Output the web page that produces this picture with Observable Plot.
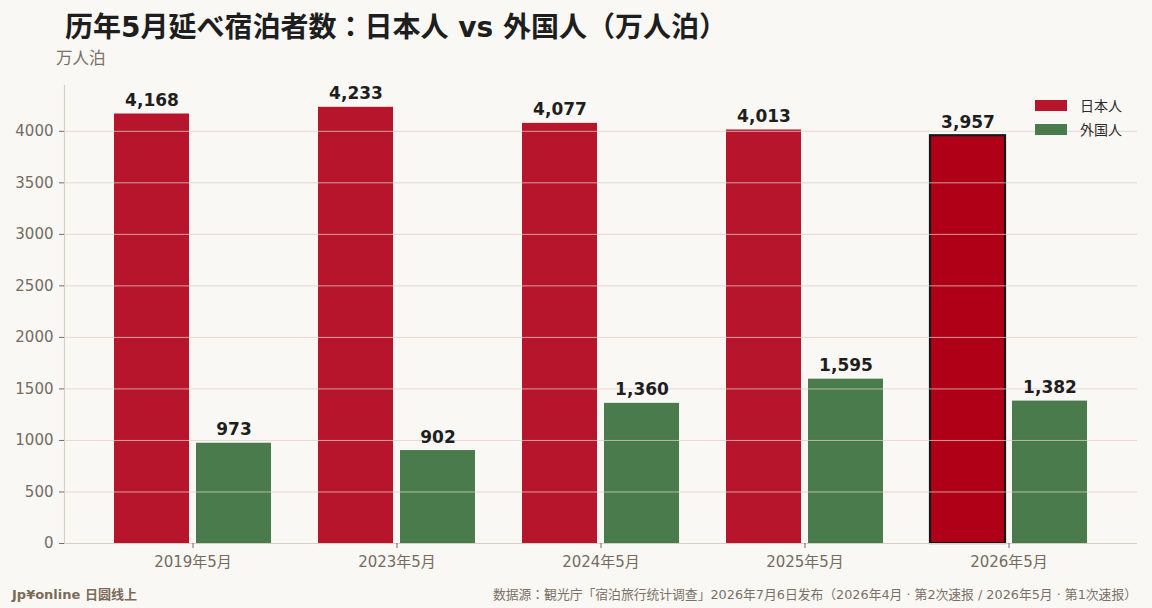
<!DOCTYPE html>
<html>
<head>
<meta charset="utf-8">
<script src="https://cdn.jsdelivr.net/npm/d3@7"></script>
<script src="https://cdn.jsdelivr.net/npm/@observablehq/plot@0.6"></script>
<style>
html, body { margin: 0; padding: 0; background: #faf8f5; }
#wrap { position: relative; width: 1152px; height: 608px; overflow: hidden; background: #faf8f5;
  font-family: "DejaVu Sans", "Noto Sans CJK JP", sans-serif; }
#title { position: absolute; left: 65px; top: 10px; font-size: 28px; font-weight: bold; color: #1e1e1e;
  white-space: nowrap; line-height: 36px; }
#unit { position: absolute; left: 56px; top: 49px; font-size: 16.5px; color: #7a7066; line-height: 20px; }
#chart { position: absolute; left: 0; top: 70px; }
#legend { position: absolute; left: 1035px; top: 93px; font-size: 14px; color: #2a2a2a; }
.item { display: flex; align-items: center; height: 24px; white-space: nowrap; }
.sw { width: 32px; height: 11px; margin-right: 13px; }
#brand { position: absolute; left: 12px; top: 586px; font-size: 13px; font-weight: bold; color: #7a6a58; line-height: 18px; white-space: nowrap; }
#source { position: absolute; right: 15px; top: 586px; font-size: 12.8px; color: #7a7066; line-height: 18px; white-space: nowrap; }
</style>
</head>
<body>
<div id="wrap">
  <div id="title"></div>
  <div id="unit"></div>
  <div id="chart"></div>
  <div id="legend"></div>
  <div id="brand"></div>
  <div id="source"></div>
</div>
<script>
// ---- data ----
const titleText = "历年5月延べ宿泊者数：日本人 vs 外国人（万人泊）";
const unitText = "万人泊";
const years = ["2019年5月", "2023年5月", "2024年5月", "2025年5月", "2026年5月"];
const japanese = [4168, 4233, 4077, 4013, 3957];
const foreign = [973, 902, 1360, 1595, 1382];
const seriesNames = ["日本人", "外国人"];
const highlightYear = "2026年5月";
const yTicks = [0, 500, 1000, 1500, 2000, 2500, 3000, 3500, 4000];
const brandText = "Jp¥online 日圆线上";
const sourceText = "数据源：観光庁「宿泊旅行统计调查」2026年7月6日发布（2026年4月 · 第2次速报 / 2026年5月 · 第1次速报）";

// ---- styles ----
const RED = "#b7152c";
const RED_HI = "#b00018";
const GREEN = "#4a7b4c";
const AXIS = "#d8cec4";
const TICKTXT = "#756b60";
const FONT = '"DejaVu Sans", "Noto Sans CJK JP", sans-serif';

document.getElementById("title").textContent = titleText;
document.getElementById("unit").textContent = unitText;
document.getElementById("brand").textContent = brandText;
document.getElementById("source").textContent = sourceText;

const legend = document.getElementById("legend");
[[seriesNames[0], RED], [seriesNames[1], GREEN]].forEach(([name, c]) => {
  const it = document.createElement("div"); it.className = "item";
  const sw = document.createElement("div"); sw.className = "sw"; sw.style.background = c;
  const tx = document.createElement("span"); tx.textContent = name;
  it.appendChild(sw); it.appendChild(tx); legend.appendChild(it);
});

const jpData = years.map((year, i) => ({year, value: japanese[i]}));
const frData = years.map((year, i) => ({year, value: foreign[i]}));

const W = 1152, H = 500, mL = 64, mR = 15, mT = 15, mB = 27;
const xOpts = {type: "band", domain: years, paddingInner: 0.23, paddingOuter: 0.24};
const bw = Plot.scale({x: {...xOpts, range: [mL, W - mR]}}).bandwidth;
const half = bw / 2, gap = 3.3;
const off = (half + gap) / 2;
const yMax = d3.max(japanese) * 1.05;
const fmt = d3.format(",");

const chart = Plot.plot({
  width: W, height: H,
  marginLeft: mL, marginRight: mR, marginTop: mT, marginBottom: mB,
  style: {background: "transparent", fontFamily: FONT, overflow: "visible"},
  x: {...xOpts, axis: null, label: null},
  y: {domain: [0, yMax], axis: null, label: null},
  marks: [
    Plot.barY(jpData.filter(d => d.year !== highlightYear), {x: "year", y: "value", fill: RED, insetRight: half + gap}),
    Plot.barY(jpData.filter(d => d.year === highlightYear), {x: "year", y: "value", fill: RED_HI, stroke: "#161616", strokeWidth: 2.2, insetRight: half + gap}),
    Plot.barY(frData, {x: "year", y: "value", fill: GREEN, insetLeft: half + gap}),
    Plot.gridY(yTicks.filter(t => t > 0), {stroke: "#e0cec6", strokeOpacity: 0.75, strokeWidth: 1}),
    Plot.ruleY([0], {stroke: AXIS, strokeWidth: 1.2}),
    Plot.frame({anchor: "left", stroke: AXIS, strokeWidth: 1.2}),
    Plot.axisY({ticks: yTicks, tickFormat: d => String(d), label: null, tickSize: 5, tickPadding: 6, fontSize: 15, fill: TICKTXT, stroke: TICKTXT}),
    Plot.axisX({label: null, tickSize: 5, tickPadding: 7.5, fontSize: 15, fill: TICKTXT, stroke: TICKTXT}),
    Plot.text(jpData, {x: "year", y: "value", text: d => fmt(d.value), dx: -off, dy: -8, lineAnchor: "bottom", fontSize: 17, fontWeight: "bold", fill: "#1e1e1e"}),
    Plot.text(frData, {x: "year", y: "value", text: d => fmt(d.value), dx: off, dy: -8, lineAnchor: "bottom", fontSize: 17, fontWeight: "bold", fill: "#1e1e1e"})
  ]
});
document.getElementById("chart").appendChild(chart);
</script>
</body>
</html>
